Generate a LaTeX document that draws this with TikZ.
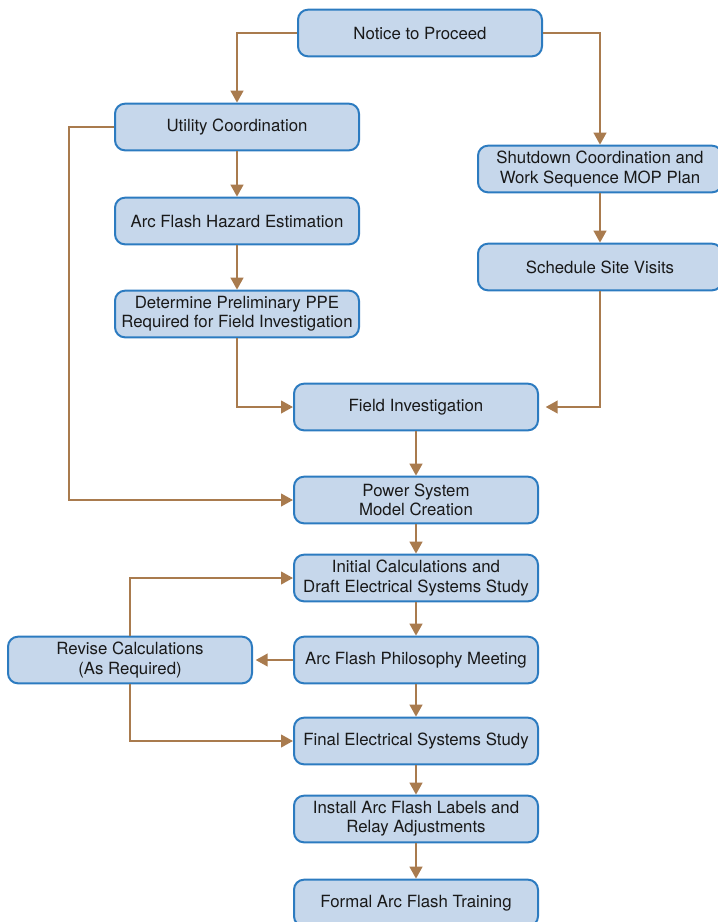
\documentclass[tikz,border=0pt]{standalone}
\usepackage{fontspec}
\setmainfont{TeX Gyre Heros}
\usetikzlibrary{arrows.meta}
\definecolor{boxfill}{HTML}{C6D7EB}
\definecolor{boxline}{HTML}{2C7BC0}
\definecolor{flowline}{HTML}{A97B4E}
\tikzset{
  stepbox/.style={draw=boxline, fill=boxfill, line width=1.5pt, rounded corners=7.5pt,
    minimum width=183pt, minimum height=35pt, inner sep=0pt, align=center,
    font=\fontsize{12.6}{14.4}\selectfont, text=black!90},
  flow/.style={draw=flowline, line width=1.6pt, -{Triangle[length=9pt,width=9.5pt]}}
}
\begin{document}
\begin{tikzpicture}[x=0.75pt, y=-0.75pt]
\useasboundingbox (0,0) rectangle (718,922);
%% boxes
\node [stepbox] (notice)   at (420,33)  {Notice to Proceed};
\node [stepbox] (utility)  at (237,127) {Utility Coordination};
\node [stepbox] (hazard)   at (237,221) {Arc Flash Hazard Estimation};
\node [stepbox] (ppe)      at (237,314) {Determine Preliminary PPE\\Required for Field Investigation};
\node [stepbox] (shutdown) at (600,169) {Shutdown Coordination and\\Work Sequence MOP Plan};
\node [stepbox] (visits)   at (600,267) {Schedule Site Visits};
\node [stepbox] (field)    at (416,407) {Field Investigation};
\node [stepbox] (model)    at (416,500) {Power System\\Model Creation};
\node [stepbox] (initial)  at (416,578) {Initial Calculations and\\Draft Electrical Systems Study};
\node [stepbox] (meeting)  at (416,660) {Arc Flash Philosophy Meeting};
\node [stepbox] (revise)   at (130,660) {Revise Calculations\\(As Required)};
\node [stepbox] (final)    at (416,741) {Final Electrical Systems Study};
\node [stepbox] (labels)   at (416,819) {Install Arc Flash Labels and\\Relay Adjustments};
\node [stepbox] (training) at (416,903) {Formal Arc Flash Training};
\coordinate (leftrail) at (69,0);
%% straight down
\foreach \a/\b in {utility/hazard, hazard/ppe, shutdown/visits, field/model, model/initial,
                   initial/meeting, meeting/final, final/labels, labels/training}
  \draw [flow] (\a.south) -- (\b.north);
%% branches
\draw [flow] (notice.west) -| (utility.north);
\draw [flow] (notice.east) -| (shutdown.north);
\draw [flow] (ppe.south) |- (field.west);
\draw [flow, shorten >=5pt] (visits.south) |- (field.east);
\draw [flow] (utility.west) -| (leftrail |- model.west) -- (model.west);
%% revise loop
\draw [flow, shorten >=2pt] (meeting.west) -- (revise.east);
\draw [flow] (revise.north) |- (initial.west);
\draw [flow] (revise.south) |- (final.west);
\end{tikzpicture}
\end{document}
